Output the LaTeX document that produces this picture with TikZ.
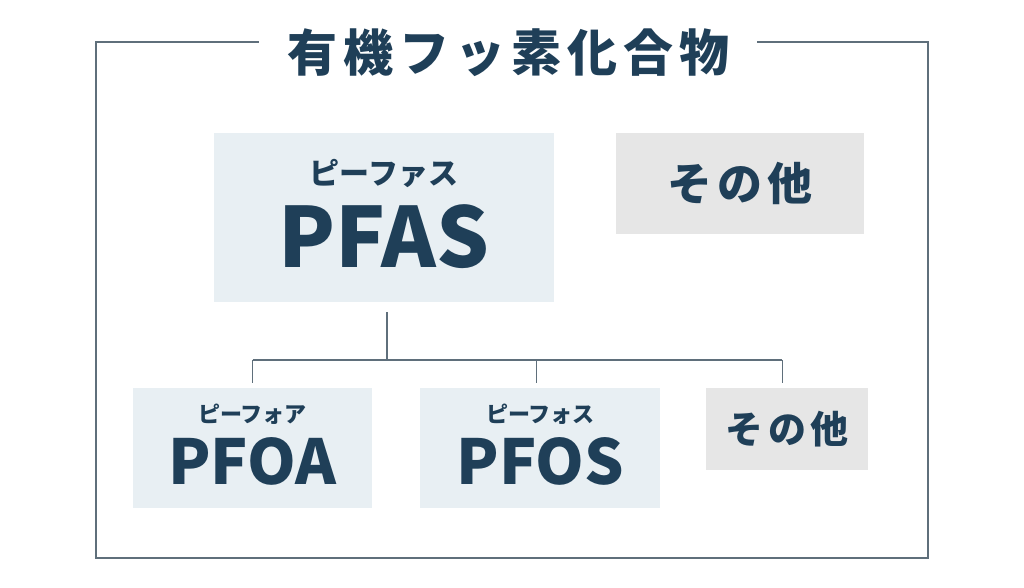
\documentclass[tikz,border=0pt]{standalone}
\usepackage{fontspec}
\setmainfont{Noto Sans CJK JP}
\newfontfamily\spacedfont[LetterSpace=12]{Noto Sans CJK JP}
\usepackage{tikz}
\usetikzlibrary{positioning}

\definecolor{navy}{HTML}{1F3F58}
\definecolor{paleblue}{HTML}{E8EFF3}
\definecolor{palegray}{HTML}{E6E6E6}
\definecolor{framegray}{HTML}{5F6F7B}

\begin{document}
\begin{tikzpicture}[x=1pt,y=1pt,
	bluebox/.style={fill=paleblue,inner sep=0pt},
	graybox/.style={fill=palegray,inner sep=0pt,text=navy},
	label/.style={text=navy,inner sep=0pt,anchor=base},
	link/.style={draw=framegray,line width=1.3pt},
	frame/.style={draw=framegray,line width=1.5pt}]
	\useasboundingbox (0,0) rectangle (1024,588);

	\node[text=navy,font=\fontsize{50}{50}\spacedfont\bfseries,inner xsep=28pt] (title) at (508,535) {有機フッ素化合物};
	\coordinate (fnw) at (96,546);
	\coordinate (fse) at (928,30);
	\draw[frame] (title.west |- fnw) -- (fnw) |- (fse) |- (title.east |- fnw);

	\node[bluebox,minimum width=340pt,minimum height=169pt] (pfas) at (384,370.5) {};
	\node[label,font=\fontsize{83}{83}\selectfont\bfseries] (pfasname) at ([yshift=-50.5pt]pfas.center) {PFAS};
	\node[label,font=\fontsize{30}{30}\selectfont\bfseries] (pfasruby) at ([yshift=33pt]pfas.center) {ピーファス};
	\node[graybox,minimum width=248pt,minimum height=101pt,font=\fontsize{45}{45}\spacedfont\bfseries] (other1) at (740,404.5) {その他};

	\node[bluebox,minimum width=239pt,minimum height=120pt] (pfoa) at (252.5,140) {};
	\node[label,font=\fontsize{62}{62}\selectfont\bfseries] (pfoaname) at ([yshift=-37pt]pfoa.center) {PFOA};
	\node[label,font=\fontsize{22}{22}\selectfont\bfseries] (pfoaruby) at ([yshift=25pt]pfoa.center) {ピーフォア};
	\node[bluebox,minimum width=240pt,minimum height=120pt,right=48pt of pfoa] (pfos) {};
	\node[label,font=\fontsize{62}{62}\selectfont\bfseries] (pfosname) at ([yshift=-37pt]pfos.center) {PFOS};
	\node[label,font=\fontsize{22}{22}\selectfont\bfseries] (pfosruby) at ([yshift=25pt]pfos.center) {ピーフォス};
	\node[graybox,minimum width=162pt,minimum height=82pt,font=\fontsize{38}{38}\spacedfont\bfseries,anchor=north west] (other2) at (706,200) {その他};

	\coordinate (bar) at (0,228);
	\draw[link] ([xshift=3pt,yshift=-10pt]pfas.south) -- ([xshift=3pt]pfas.south |- bar);
	\draw[link] (pfoa.north |- bar) -- ([xshift=-5pt]other2.north |- bar);
	\draw[link] (pfoa.north |- bar) -- ([yshift=5pt]pfoa.north);
	\draw[link] ([xshift=-4pt]pfos.north |- bar) -- ([xshift=-4pt,yshift=5pt]pfos.north);
	\draw[link] ([xshift=-5pt]other2.north |- bar) -- ([xshift=-5pt,yshift=5pt]other2.north);
\end{tikzpicture}
\end{document}
